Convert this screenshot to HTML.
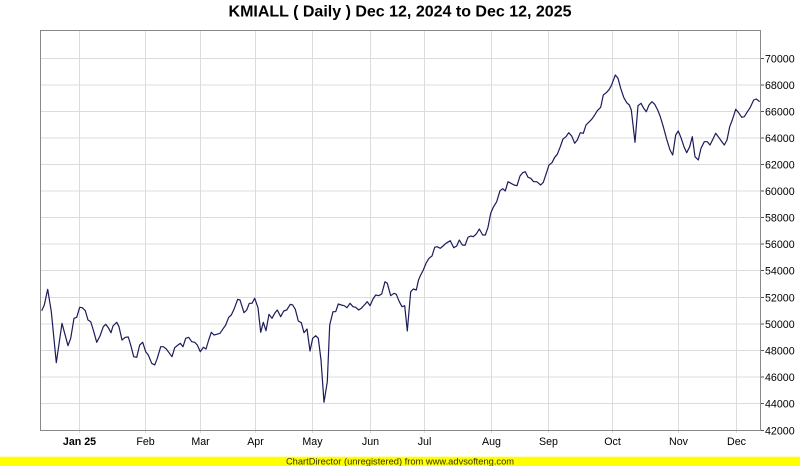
<!DOCTYPE html>
<html>
<head>
<meta charset="utf-8">
<style>
  html, body { margin: 0; padding: 0; background: #ffffff; }
  svg { display: block; }
  text { font-family: "Liberation Sans", Arial, sans-serif; }
</style>
</head>
<body>
<svg width="800" height="466" viewBox="0 0 800 466" xmlns="http://www.w3.org/2000/svg">
  <rect x="0" y="0" width="800" height="466" fill="#ffffff"/>
  <text x="400" y="16.7" text-anchor="middle" font-size="16" font-weight="bold" fill="#000000">KMIALL ( Daily ) Dec 12, 2024 to Dec 12, 2025</text>

  <!-- horizontal grid -->
  <g stroke="#dcdcdc" stroke-width="1" shape-rendering="crispEdges">
    <line x1="41" y1="403.5" x2="760" y2="403.5"/>
    <line x1="41" y1="377" x2="760" y2="377"/>
    <line x1="41" y1="350.5" x2="760" y2="350.5"/>
    <line x1="41" y1="324" x2="760" y2="324"/>
    <line x1="41" y1="297.5" x2="760" y2="297.5"/>
    <line x1="41" y1="270.5" x2="760" y2="270.5"/>
    <line x1="41" y1="244" x2="760" y2="244"/>
    <line x1="41" y1="217.5" x2="760" y2="217.5"/>
    <line x1="41" y1="191" x2="760" y2="191"/>
    <line x1="41" y1="164.5" x2="760" y2="164.5"/>
    <line x1="41" y1="138" x2="760" y2="138"/>
    <line x1="41" y1="111.5" x2="760" y2="111.5"/>
    <line x1="41" y1="85" x2="760" y2="85"/>
    <line x1="41" y1="58.5" x2="760" y2="58.5"/>
  </g>
  <!-- vertical grid + x ticks -->
  <g stroke="#dcdcdc" stroke-width="1" shape-rendering="crispEdges">
    <line x1="79.5" y1="31" x2="79.5" y2="433"/>
    <line x1="145.5" y1="31" x2="145.5" y2="433"/>
    <line x1="200.5" y1="31" x2="200.5" y2="433"/>
    <line x1="255.5" y1="31" x2="255.5" y2="433"/>
    <line x1="312.5" y1="31" x2="312.5" y2="433"/>
    <line x1="370.5" y1="31" x2="370.5" y2="433"/>
    <line x1="424.5" y1="31" x2="424.5" y2="433"/>
    <line x1="491.5" y1="31" x2="491.5" y2="433"/>
    <line x1="548.5" y1="31" x2="548.5" y2="433"/>
    <line x1="612.5" y1="31" x2="612.5" y2="433"/>
    <line x1="678.5" y1="31" x2="678.5" y2="433"/>
    <line x1="736.5" y1="31" x2="736.5" y2="433"/>
  </g>

  <!-- plot border -->
  <rect x="40.5" y="30.5" width="720" height="400" fill="none" stroke="#888888" stroke-width="1" shape-rendering="crispEdges"/>

  <!-- y ticks -->
  <g stroke="#555555" stroke-width="1" shape-rendering="crispEdges">
    <line x1="761" y1="430.5" x2="764" y2="430.5"/>
    <line x1="761" y1="403.5" x2="764" y2="403.5"/>
    <line x1="761" y1="377" x2="764" y2="377"/>
    <line x1="761" y1="350.5" x2="764" y2="350.5"/>
    <line x1="761" y1="324" x2="764" y2="324"/>
    <line x1="761" y1="297.5" x2="764" y2="297.5"/>
    <line x1="761" y1="270.5" x2="764" y2="270.5"/>
    <line x1="761" y1="244" x2="764" y2="244"/>
    <line x1="761" y1="217.5" x2="764" y2="217.5"/>
    <line x1="761" y1="191" x2="764" y2="191"/>
    <line x1="761" y1="164.5" x2="764" y2="164.5"/>
    <line x1="761" y1="138" x2="764" y2="138"/>
    <line x1="761" y1="111.5" x2="764" y2="111.5"/>
    <line x1="761" y1="85" x2="764" y2="85"/>
    <line x1="761" y1="58.5" x2="764" y2="58.5"/>
  </g>

  <!-- y labels -->
  <g font-size="10.67" fill="#000000">
    <text x="765" y="434.3">42000</text>
    <text x="765" y="407.3">44000</text>
    <text x="765" y="380.8">46000</text>
    <text x="765" y="354.3">48000</text>
    <text x="765" y="327.8">50000</text>
    <text x="765" y="301.3">52000</text>
    <text x="765" y="274.3">54000</text>
    <text x="765" y="247.8">56000</text>
    <text x="765" y="221.3">58000</text>
    <text x="765" y="194.8">60000</text>
    <text x="765" y="168.3">62000</text>
    <text x="765" y="141.8">64000</text>
    <text x="765" y="115.3">66000</text>
    <text x="765" y="88.8">68000</text>
    <text x="765" y="62.3">70000</text>
  </g>

  <!-- x labels -->
  <g font-size="10.67" fill="#000000" text-anchor="middle">
    <text x="79.5" y="445" font-weight="bold">Jan 25</text>
    <text x="145.5" y="445">Feb</text>
    <text x="200.5" y="445">Mar</text>
    <text x="255.5" y="445">Apr</text>
    <text x="312.5" y="445">May</text>
    <text x="370.5" y="445">Jun</text>
    <text x="424.5" y="445">Jul</text>
    <text x="491.5" y="445">Aug</text>
    <text x="548.5" y="445">Sep</text>
    <text x="612.5" y="445">Oct</text>
    <text x="678.5" y="445">Nov</text>
    <text x="736.5" y="445">Dec</text>
  </g>

  <!-- series -->
  <polyline fill="none" stroke="#1c1c5a" stroke-width="1.2" stroke-linejoin="round" points="
41.7,310.7 44.3,305 47.7,289.3 51.3,311.7 56.3,362.7 62,323.3 68,345.7 70.7,338.3 74,318.3 76.7,317.3 79.7,307.3 82.3,307.7 85.3,310.7 88,320 90.7,321.7 93.3,330 96.7,342.3 100,336 103.3,326.7 105.7,324.3 108.3,327.7 111,332.7 113,326 116.7,322.3 119,326.7 122,340 125.3,337.3 128.3,337 130.7,345 133.7,356.7 136.7,357.3 139.7,345 142.7,342.3 145.7,351.7 148.3,355 151.7,363.3 154.7,365 157.3,358.3
160.7,346.7 163.3,346.7 166.3,349 169,352.7 172,356.7 174.7,347.7 178,345 180.3,343.3 183,346.7 185.7,338.3 188.7,337.3 191.7,341.7 194.7,342.3 197.3,345 200.3,351.7 203.3,347.3 206,349 208.7,340 211.3,332.3 214,335 216.7,334.3 220,333.3 222.7,329.3 225.7,325 228.7,317.3 231.3,315 234,309.3 237.7,299.3 240,300 242.3,307.3 244,312.7 246.7,310 249.3,303.3 252,303.3 254.7,298.3 258,307.7 260.7,332.3 263.3,322.3 266,330.7 269,314.3 272,318.3 274.7,313.3 277.3,310
280.7,316.7 283.7,311 286.7,310 290.3,304.3 292.7,305 295.3,309.3 298.3,321 301.3,322.7 304,332.7 307,329 310,351 312.7,338.3 315.7,335.7 318.3,338.3 321,360 324,402.3 327.3,381.7 329.7,325 333,311.7 335.7,311.7 338.3,304 341.3,305 344.3,305.7 347,307.7 350,303.3 353,306.7 355.7,307.3 358.7,310 361.3,308.3 364.3,305 367.3,301.7 370,305.7 373,299 375.7,295 378.7,295.7 381.7,294 385,281.7 387.3,283.3 390.7,295.7 394,293.3 396.3,294.3 399.3,301.7 402,306.7 404.7,305.7 407.3,331 410.7,291.7 413.3,289 416.3,290
418.5,280 420.7,275 423.3,270 426.3,262.7 429,258.3 432,256 434.7,247.3 437,246.7 440.3,248.3 443,246 446,243.3 450.3,240.7 453.7,247.7 456.7,246 459.3,240 462.3,245 465,245.3 468,237.3 470.7,236 473.3,236.7 476.3,234 479.3,229 482.7,235 485.3,235 488,227.3 490.7,213.3 493.3,207.3 496.7,201.7 500,190.7 502.7,188.7 505.3,191 508,181.7 511,183.3 514,185 517,185.7 520,176 522.7,172.7 525.3,171.7 528,177.3 530.7,178.3 533.7,181.7 536.7,181.7
540.7,185 543.3,182.3 546.3,173.3 549,165 552,162.7 554.7,157.3 557.3,154.3 560.3,146.7 563,139 566,136.7 568.7,132.7 571.7,136 574.7,143.3 577.3,140 580.3,132.7 583.3,133.3 586,125 588.7,122.3 591.7,119.3 594.7,115 597.3,110.7 600.7,107.3 603.3,95 606.3,92.7 609,89.7 611.3,85.7 615.3,75 618,78.3 620.7,88.3 623.7,97.3 626.7,102.7 629.3,105 631.3,110 635,142.3 638,105.7 641,103.3 643.7,108.3 646.3,111.7 649,105 652,101.7 654.7,104.3
657.7,110 660.3,116.7 663.3,126.7 666.7,139.3 670,150 672.7,155 675.7,135 678.3,131 681,137.7 684,146.7 686.7,152.7 689.7,146.7 692.3,136.7 695,156.7 698.3,160 701,148.3 704.3,141.7 707.3,141.7 710,145 713,139 715.7,133.3 718.3,136.7 721.3,141 724.3,145 727,140 729.7,126.7 732.3,120 735.7,109.3 738.3,112.3 741.7,117.3 744.3,116.7 747,112.3 750.3,107.3 753.7,100 756.3,99 759.7,101.7"/>

  <!-- footer -->
  <rect x="0" y="456.7" width="800" height="9.3" fill="#ffff00"/>
  <text x="400" y="464.6" text-anchor="middle" font-size="9.33" fill="#333300">ChartDirector (unregistered) from www.advsofteng.com</text>
</svg>
</body>
</html>
